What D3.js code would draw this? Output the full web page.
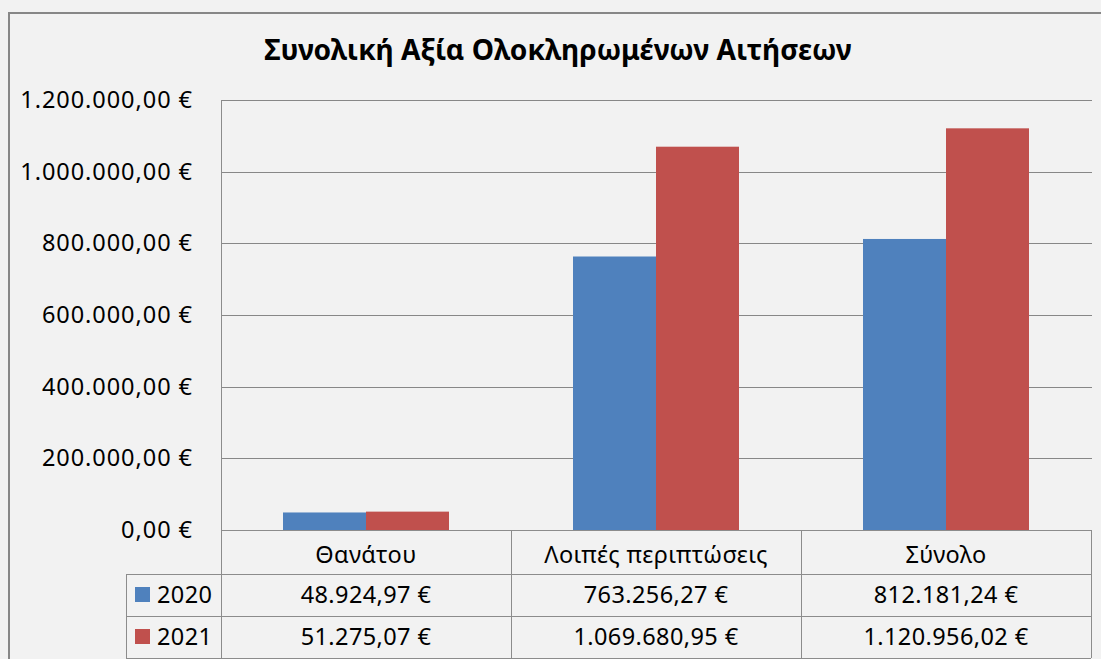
<!DOCTYPE html>
<html>
<head>
<meta charset="utf-8">
<script src="https://cdn.jsdelivr.net/npm/d3@7"></script>
<style>
    html, body { margin: 0; padding: 0; background: #f2f2f2; }
    svg { display: block; }
    text { font-family: "Noto Sans", "Open Sans", sans-serif; fill: #000; }
</style>
</head>
<body>
<div id="chart"></div>
<script>
// chart values
var categories = ["Θανάτου", "Λοιπές περιπτώσεις", "Σύνολο"];
var years = ["2020", "2021"];
var values2020 = [48924.97, 763256.27, 812181.24];
var values2021 = [51275.07, 1069680.95, 1120956.02];
var yTicks = [0, 200000, 400000, 600000, 800000, 1000000, 1200000];
var colors = ["#4f81bd", "#c0504d"];
var title = "Συνολική Αξία Ολοκληρωμένων Αιτήσεων";

var seriesValues = [values2020, values2021];

var width = 1101, height = 659;
var margin = { top: 100, left: 221, right: 10 };
var plotBottom = 530;
var headH = 44, rowH = 42;
var fontSize = "23.5px", spacing = "0.4px";

var locale = d3.formatLocale({
    decimal: ",",
    thousands: ".",
    grouping: [3],
    currency: ["", " €"]
});
var fmt = locale.format("$,.2f");

var svg = d3.select("#chart").append("svg")
    .attr("width", width)
    .attr("height", height);

// outer chart frame
svg.append("rect")
    .attr("x", 9).attr("y", 13)
    .attr("width", width + 20).attr("height", height + 20)
    .attr("fill", "#f2f2f2")
    .attr("stroke", "#878787")
    .attr("stroke-width", 2);

svg.append("text")
    .attr("x", 558).attr("y", 60)
    .attr("text-anchor", "middle")
    .style("font-size", "28.2px")
    .style("font-weight", "bold")
    .text(title);

var x0 = d3.scaleBand().domain(categories).range([margin.left, 1091]);
var x1 = d3.scaleBand().domain(years).range([0, x0.bandwidth()]).paddingOuter(0.747);
var y = d3.scaleLinear().domain([0, 1200000]).range([plotBottom, margin.top]);

// gridlines
svg.append("g").selectAll("line")
    .data(yTicks)
    .enter().append("line")
    .attr("x1", margin.left).attr("x2", 1092)
    .attr("y1", function (d) { return Math.round(y(d)) + 0.5; })
    .attr("y2", function (d) { return Math.round(y(d)) + 0.5; })
    .attr("stroke", "#878787")
    .attr("stroke-width", 1);

// y axis
var yAxis = d3.axisLeft(y).tickValues(yTicks).tickFormat(fmt).tickSize(0).tickPadding(28);
var gy = svg.append("g")
    .attr("transform", "translate(" + margin.left + ",0)")
    .call(yAxis);
gy.select(".domain").remove();
gy.selectAll("text")
    .style("font-family", "\"Noto Sans\", sans-serif")
    .style("font-size", fontSize)
    .style("letter-spacing", "0.95px")
    .attr("fill", "#000");

// bars
var groups = svg.append("g").selectAll("g")
    .data(categories)
    .enter().append("g")
    .attr("transform", function (d) { return "translate(" + x0(d) + ",0)"; });
groups.selectAll("rect")
    .data(function (d, i) {
        return years.map(function (yr, j) { return { year: yr, value: seriesValues[j][i], c: j }; });
    })
    .enter().append("rect")
    .attr("x", function (d) { return x1(d.year); })
    .attr("width", x1.bandwidth())
    .attr("y", function (d) { return y(d.value); })
    .attr("height", function (d) { return plotBottom - y(d.value); })
    .attr("fill", function (d) { return colors[d.c]; });

// data table
var table = svg.append("g");
var lineColor = "#8c8c8c";
var tableRight = x0.range()[1];
var legendLeft = 126;

function hline(x1p, x2p, yp) {
    table.append("line").attr("x1", x1p).attr("x2", x2p)
        .attr("y1", yp + 0.5).attr("y2", yp + 0.5)
        .attr("stroke", lineColor);
}
function vline(xp, y1p, y2p) {
    table.append("line").attr("x1", xp + 0.5).attr("x2", xp + 0.5)
        .attr("y1", y1p).attr("y2", y2p)
        .attr("stroke", lineColor);
}

// value axis line runs through table
vline(margin.left, margin.top, plotBottom + headH + rowH * 2 + 1);
hline(margin.left, tableRight, plotBottom);
hline(legendLeft, tableRight, plotBottom + headH);
hline(legendLeft, tableRight, plotBottom + headH + rowH);
hline(legendLeft, tableRight, plotBottom + headH + rowH * 2);
categories.forEach(function (c) {
    vline(x0(c) + x0.bandwidth(), plotBottom, plotBottom + headH + rowH * 2);
});
vline(legendLeft, plotBottom + headH, plotBottom + headH + rowH * 2);

table.selectAll(".cat")
    .data(categories)
    .enter().append("text")
    .attr("class", "cat")
    .attr("x", function (d) { return x0(d) + x0.bandwidth() / 2; })
    .attr("y", plotBottom + 33)
    .attr("text-anchor", "middle")
    .style("font-size", fontSize)
    .style("letter-spacing", spacing)
    .text(function (d) { return d; });

years.forEach(function (yr, j) {
    var rowTop = plotBottom + headH + rowH * j;
    table.append("rect")
        .attr("x", 135).attr("y", rowTop + 13)
        .attr("width", 15).attr("height", 15)
        .attr("fill", colors[j]);
    table.append("text")
        .attr("x", 157).attr("y", rowTop + 29)
        .style("font-size", fontSize)
        .style("letter-spacing", spacing)
        .text(yr);
    table.selectAll(".v" + j)
        .data(seriesValues[j])
        .enter().append("text")
        .attr("x", function (d, i) { return x0(categories[i]) + x0.bandwidth() / 2; })
        .attr("y", rowTop + 29)
        .attr("text-anchor", "middle")
        .style("font-size", fontSize)
        .style("letter-spacing", spacing)
        .text(function (d) { return fmt(d); });
});
</script>
</body>
</html>
